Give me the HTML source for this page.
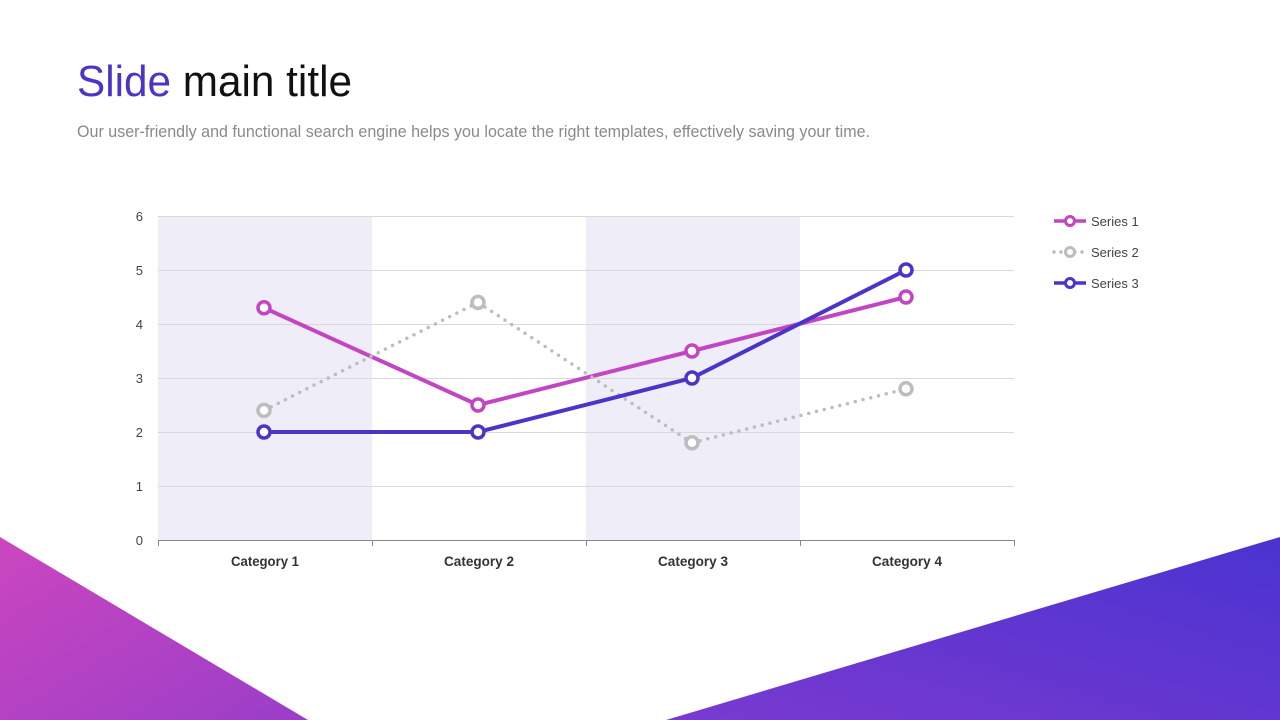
<!DOCTYPE html>
<html><head><meta charset="utf-8"><style>
html,body{margin:0;padding:0;width:1280px;height:720px;overflow:hidden;background:#fff;font-family:"Liberation Sans",sans-serif;}
svg{position:absolute;left:0;top:0}
</style></head><body>
<svg width="1280" height="720" viewBox="0 0 1280 720">
<defs>
<linearGradient id="gl" x1="0" y1="0" x2="1" y2="1"><stop offset="0" stop-color="#cc46bf"/><stop offset="1" stop-color="#9a3ec8"/></linearGradient>
<linearGradient id="gr" x1="0" y1="1" x2="1" y2="0"><stop offset="0" stop-color="#7a3ad0"/><stop offset="1" stop-color="#4a33d0"/></linearGradient>
</defs>
<text x="77" y="96" font-size="44" font-family="Liberation Sans Narrow, Liberation Sans, sans-serif" textLength="275" lengthAdjust="spacingAndGlyphs"><tspan fill="#4b35c8">Slide</tspan><tspan fill="#111"> main title</tspan></text>
<text x="77" y="137" font-size="17" fill="#8a8a8a" textLength="793" lengthAdjust="spacingAndGlyphs">Our user-friendly and functional search engine helps you locate the right templates, effectively saving your time.</text>
<rect x="158" y="216" width="214" height="324" fill="#efedf8"/>
<rect x="586" y="216" width="214" height="324" fill="#efedf8"/>
<g stroke="#d9d9d9" stroke-width="1">
<line x1="158" y1="216.5" x2="1014" y2="216.5"/><line x1="158" y1="270.5" x2="1014" y2="270.5"/><line x1="158" y1="324.5" x2="1014" y2="324.5"/><line x1="158" y1="378.5" x2="1014" y2="378.5"/><line x1="158" y1="432.5" x2="1014" y2="432.5"/><line x1="158" y1="486.5" x2="1014" y2="486.5"/>
</g>
<g stroke="#888" stroke-width="1"><line x1="158" y1="540.5" x2="1014" y2="540.5"/>
<line x1="158.5" y1="540" x2="158.5" y2="546"/><line x1="372.5" y1="540" x2="372.5" y2="546"/><line x1="586.5" y1="540" x2="586.5" y2="546"/><line x1="800.5" y1="540" x2="800.5" y2="546"/><line x1="1014.5" y1="540" x2="1014.5" y2="546"/></g>
<g font-size="13" fill="#444" text-anchor="end">
<text x="143" y="221">6</text><text x="143" y="275">5</text><text x="143" y="329">4</text><text x="143" y="383">3</text><text x="143" y="437">2</text><text x="143" y="491">1</text><text x="143" y="545">0</text></g>
<g font-size="14" font-weight="bold" fill="#333" text-anchor="middle">
<text x="265" y="566" textLength="68" lengthAdjust="spacingAndGlyphs">Category 1</text><text x="479" y="566" textLength="70" lengthAdjust="spacingAndGlyphs">Category 2</text><text x="693" y="566" textLength="70" lengthAdjust="spacingAndGlyphs">Category 3</text><text x="907" y="566" textLength="70" lengthAdjust="spacingAndGlyphs">Category 4</text></g>
<polyline points="264,307.8 478,405 692,351 906,297" fill="none" stroke="#c245c2" stroke-width="4"/>
<polyline points="264,410.4 478,302.4 692,442.8 906,388.8" fill="none" stroke="#bdbdbd" stroke-width="3.5" stroke-dasharray="0,8" stroke-linecap="round"/>
<polyline points="264,432 478,432 692,378 906,270" fill="none" stroke="#4b35c8" stroke-width="4"/>
<g fill="#fff" stroke-width="3.5">
<g stroke="#bdbdbd"><circle cx="264" cy="410.4" r="6"/><circle cx="478" cy="302.4" r="6"/><circle cx="692" cy="442.8" r="6"/><circle cx="906" cy="388.8" r="6"/></g>
<g stroke="#c245c2"><circle cx="264" cy="307.8" r="6"/><circle cx="478" cy="405" r="6"/><circle cx="692" cy="351" r="6"/><circle cx="906" cy="297" r="6"/></g>
<g stroke="#4b35c8"><circle cx="264" cy="432" r="6"/><circle cx="478" cy="432" r="6"/><circle cx="692" cy="378" r="6"/><circle cx="906" cy="270" r="6"/></g>
</g>
<g font-size="13" fill="#444">
<line x1="1054" y1="221" x2="1086" y2="221" stroke="#c245c2" stroke-width="3.5"/><circle cx="1070" cy="221" r="4.5" fill="#fff" stroke="#c245c2" stroke-width="3"/><text x="1091" y="226">Series 1</text>
<line x1="1054" y1="252" x2="1086" y2="252" stroke="#bdbdbd" stroke-width="3.5" stroke-dasharray="0,7" stroke-linecap="round"/><circle cx="1070" cy="252" r="4.5" fill="#fff" stroke="#bdbdbd" stroke-width="3"/><text x="1091" y="257">Series 2</text>
<line x1="1054" y1="283" x2="1086" y2="283" stroke="#4b35c8" stroke-width="3.5"/><circle cx="1070" cy="283" r="4.5" fill="#fff" stroke="#4b35c8" stroke-width="3"/><text x="1091" y="288">Series 3</text>
</g>
<polygon points="0,537 308,720 0,720" fill="url(#gl)"/>
<polygon points="666,720 1280,537 1280,720" fill="url(#gr)"/>
</svg>
</body></html>
